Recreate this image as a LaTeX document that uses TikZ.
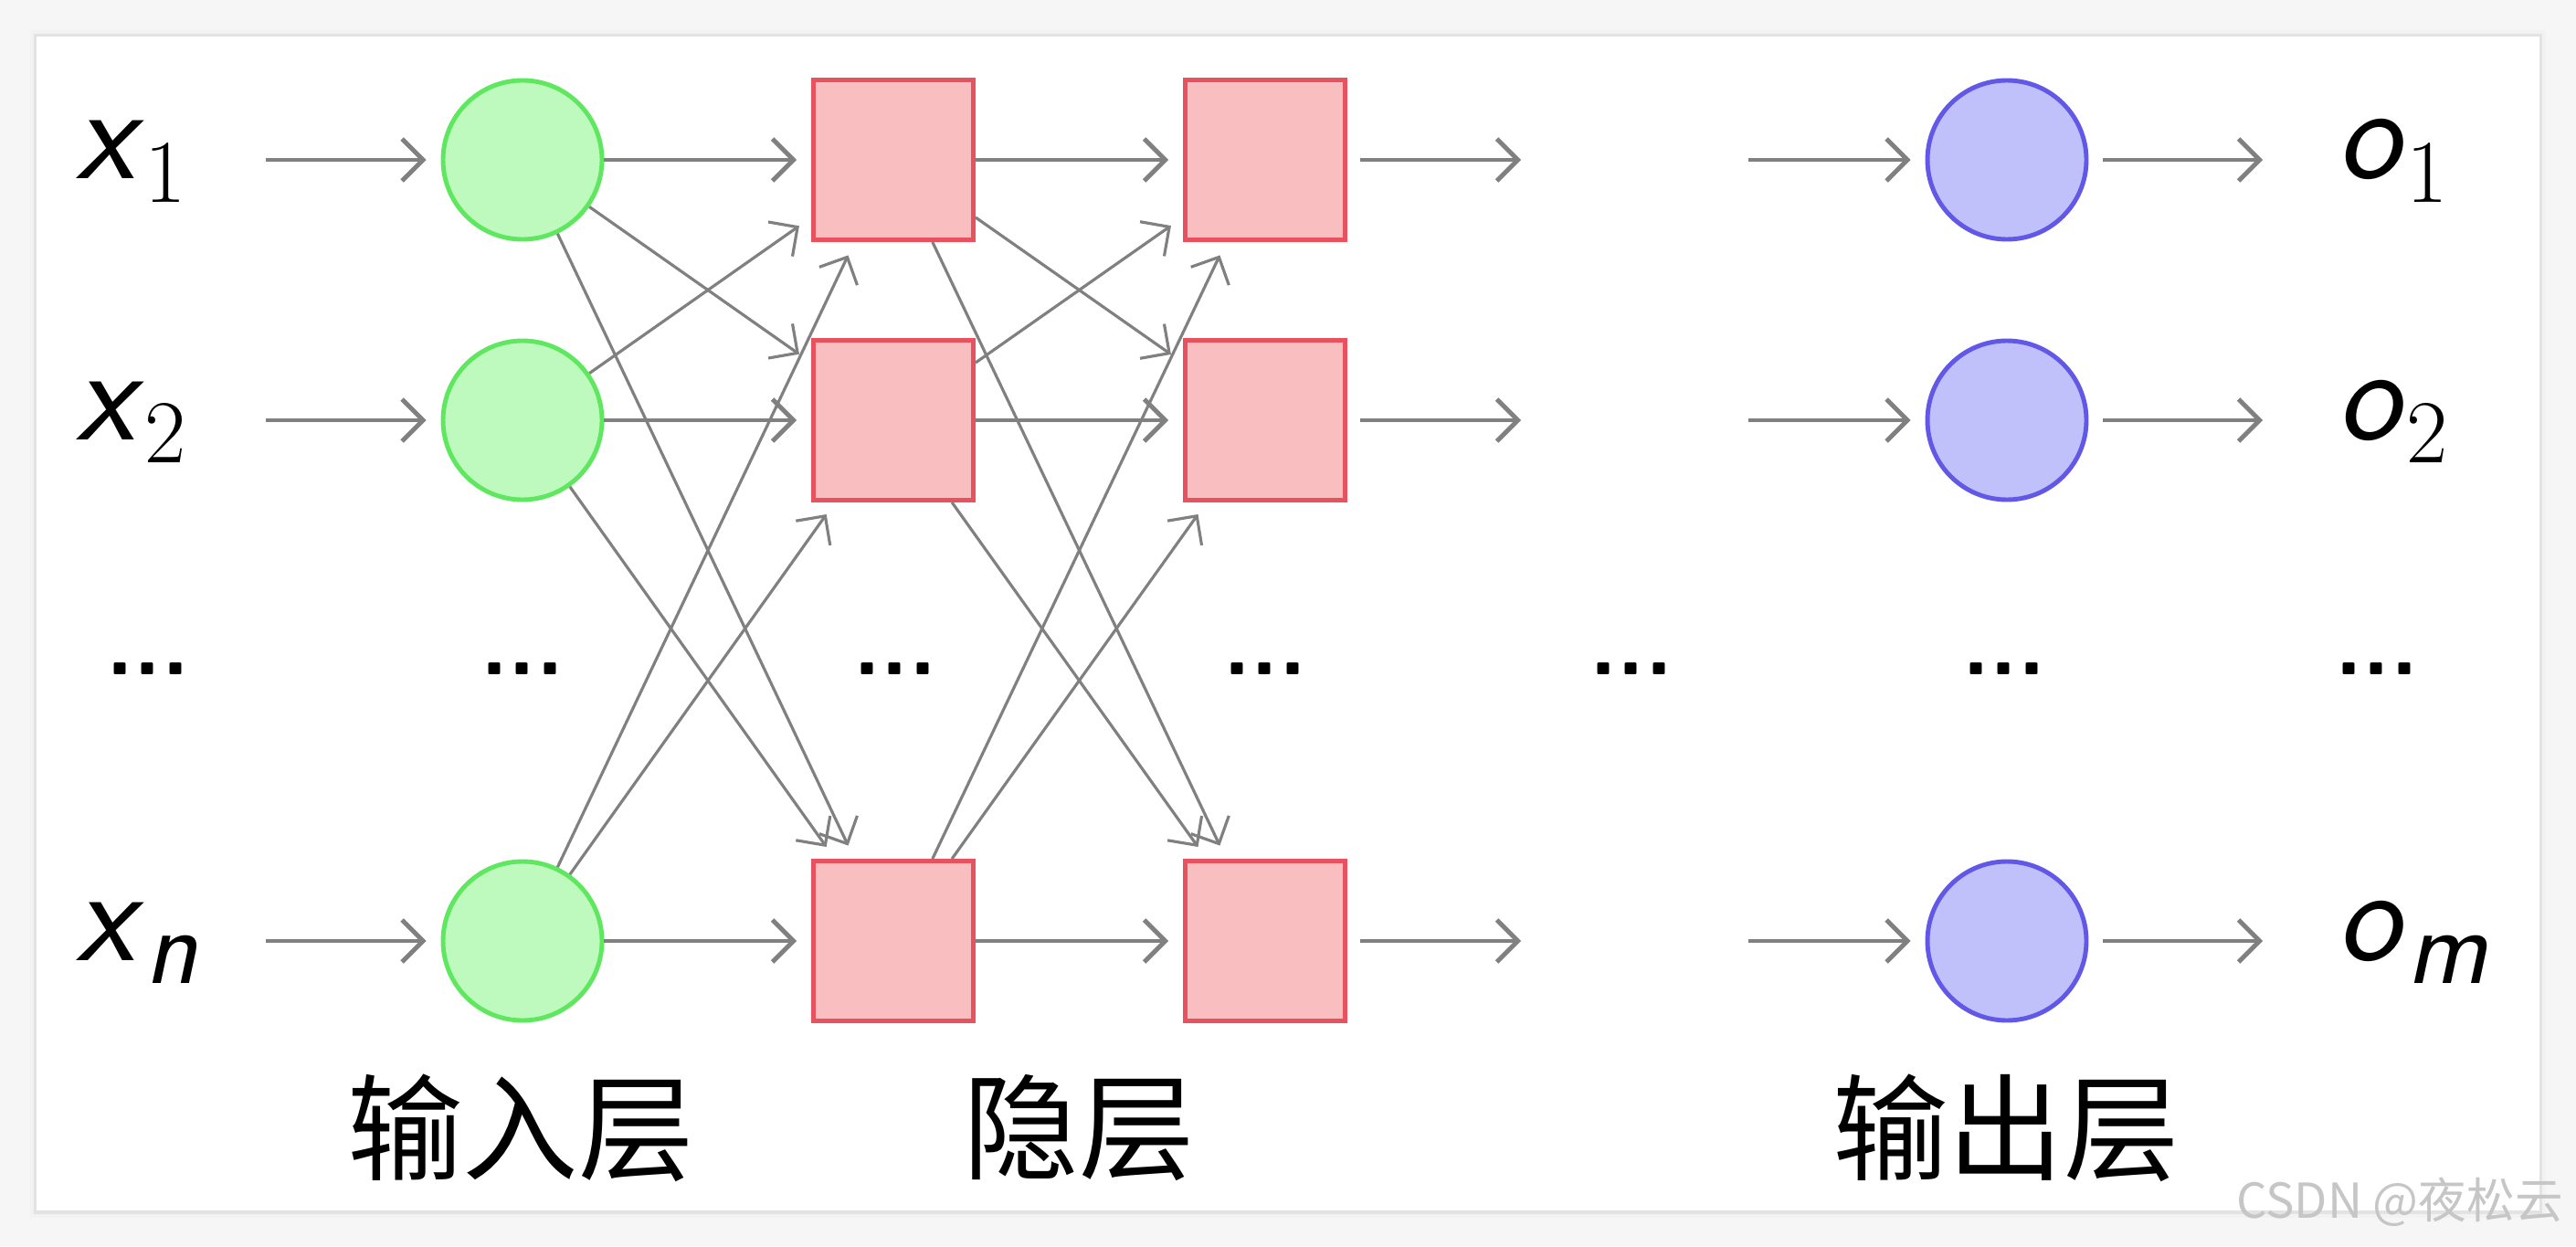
\documentclass[tikz,border=0pt]{standalone}
\usepackage{fontspec}
\newfontfamily\cjk{Noto Sans CJK SC}
\usetikzlibrary{arrows.meta,positioning}

\definecolor{bggray}{RGB}{246,246,246}
\definecolor{arrgray}{RGB}{128,128,128}
\definecolor{infill}{RGB}{190,250,190}
\definecolor{indraw}{RGB}{95,232,95}
\definecolor{hidfill}{RGB}{248,190,192}
\definecolor{hiddraw}{RGB}{232,82,94}
\definecolor{outfill}{RGB}{192,192,250}
\definecolor{outdraw}{RGB}{98,88,232}

% variable with a lowered index
\newcommand{\nnlbl}[2]{\textsf{\textit{#1}}\raisebox{-0.17em}{\fontsize{28}{30}\selectfont #2}}
\newcommand{\nnidx}[1]{{\fontsize{34}{36}\selectfont\textsf{\textit{#1}}}}

\begin{document}
\begin{tikzpicture}[
  unit/.style={circle, minimum size=17.4mm, inner sep=0pt, line width=1.4pt},
  inunit/.style={unit, draw=indraw, fill=infill},
  outunit/.style={unit, draw=outdraw, fill=outfill},
  hidunit/.style={rectangle, minimum size=17.5mm, inner sep=0pt, line width=1.4pt,
    draw=hiddraw, fill=hidfill},
  arr/.style={-{Straight Barb[length=2.3mm,width=4.6mm]}, draw=arrgray,
    line width=1.4pt, shorten >=1.6mm},
  warr/.style={arr, line width=0.9pt},
  sym/.style={font=\fontsize{42}{48}\selectfont, inner sep=0pt, text height=6.6mm,
    text depth=2.4mm, align=left, anchor=west},
  ellip/.style={font=\sffamily\bfseries\fontsize{28}{30}\selectfont, inner sep=0pt},
  layertext/.style={font=\cjk\fontsize{36}{40}\selectfont, inner sep=0pt}
]
% page and card
\path[use as bounding box, fill=bggray] (0,0) rectangle (28.2,13.64);
\fill[gray!10] (0.33,0.31) rectangle (27.87,13.31);
\fill[gray!22] (0.37,0.35) rectangle (27.83,13.27);
\fill[white] (0.4,0.39) rectangle (27.8,13.24);

% inputs
\node[sym, text width=13mm] (x1) at (0.83,11.89) {\nnlbl{x}{1}};
\node[sym, text width=13mm] (x2) at (0.83,9.04) {\nnlbl{x}{2}};
\node[sym, text width=13mm] (xN) at (0.83,3.34) {\nnlbl{x}{\nnidx{n}}};

\node[inunit] (in1) at (5.72,11.89) {};
\node[inunit] (in2) at (5.72,9.04) {};
\node[inunit] (inN) at (5.72,3.34) {};

% hidden layers
\node[hidunit] (ha1) at (9.78,11.89) {};
\node[hidunit] (ha2) at (9.78,9.04) {};
\node[hidunit] (haN) at (9.78,3.34) {};
\node[hidunit] (hb1) at (13.85,11.89) {};
\node[hidunit] (hb2) at (13.85,9.04) {};
\node[hidunit] (hbN) at (13.85,3.34) {};

% free ends around the gap
\coordinate (m1) at (16.81,11.89);
\coordinate (m2) at (16.81,9.04);
\coordinate (mN) at (16.81,3.34);
\coordinate (r1) at (19.14,11.89);
\coordinate (r2) at (19.14,9.04);
\coordinate (rN) at (19.14,3.34);

% outputs
\node[outunit] (out1) at (21.97,11.89) {};
\node[outunit] (out2) at (21.97,9.04) {};
\node[outunit] (outN) at (21.97,3.34) {};

\node[sym, text width=17mm] (o1) at (25.58,11.89) {\nnlbl{o}{1}};
\node[sym, text width=17mm] (o2) at (25.58,9.04) {\nnlbl{o}{2}};
\node[sym, text width=17mm] (oM) at (25.58,3.34) {\nnlbl{o}{\nnidx{m}}};

% dots row
\node[ellip] (d0) at (1.62,6.32) {...};
\node[ellip] (d1) at (5.72,6.32) {...};
\node[ellip] (d2) at (9.80,6.32) {...};
\node[ellip] (d3) at (13.85,6.32) {...};
\node[ellip] (d4) at (17.86,6.32) {...};
\node[ellip] (d5) at (21.94,6.32) {...};
\node[ellip] (d6) at (26.02,6.32) {...};

% layer names
\node[layertext] (linput) at (5.70,1.29) {输入层};
\node[layertext] (lhidden) at (11.81,1.29) {隐层};
\node[layertext] (loutput) at (21.96,1.29) {输出层};

\node[font=\cjk\fontsize{15}{16}\selectfont, text=gray!45] (mark) at (26.27,0.48) {CSDN @夜松云};

% connections
\draw[arr, shorten <=7.7mm] (x1) -- (in1);
\draw[arr, shorten <=7.7mm] (x2) -- (in2);
\draw[arr, shorten <=7.7mm] (xN) -- (inN);

\draw[arr] (in1) -- (ha1);
\draw[arr] (in2) -- (ha2);
\draw[arr] (inN) -- (haN);
\draw (in1) edge[warr] (ha2) edge[warr] (haN);
\draw (in2) edge[warr] (ha1) edge[warr] (haN);
\draw (inN) edge[warr] (ha1) edge[warr] (ha2);

\draw[arr] (ha1) -- (hb1);
\draw[arr] (ha2) -- (hb2);
\draw[arr] (haN) -- (hbN);
\draw (ha1) edge[warr] (hb2) edge[warr] (hbN);
\draw (ha2) edge[warr] (hb1) edge[warr] (hbN);
\draw (haN) edge[warr] (hb1) edge[warr] (hb2);

\draw[arr, shorten <=1.4mm] (hb1) -- (m1);
\draw[arr, shorten <=1.4mm] (hb2) -- (m2);
\draw[arr, shorten <=1.4mm] (hbN) -- (mN);

\draw[arr] (r1) -- (out1);
\draw[arr] (r2) -- (out2);
\draw[arr] (rN) -- (outN);

\draw[arr, shorten <=1.6mm, shorten >=8.1mm] (out1) -- (o1);
\draw[arr, shorten <=1.6mm, shorten >=8.1mm] (out2) -- (o2);
\draw[arr, shorten <=1.6mm, shorten >=8.1mm] (outN) -- (oM);
\end{tikzpicture}
\end{document}
